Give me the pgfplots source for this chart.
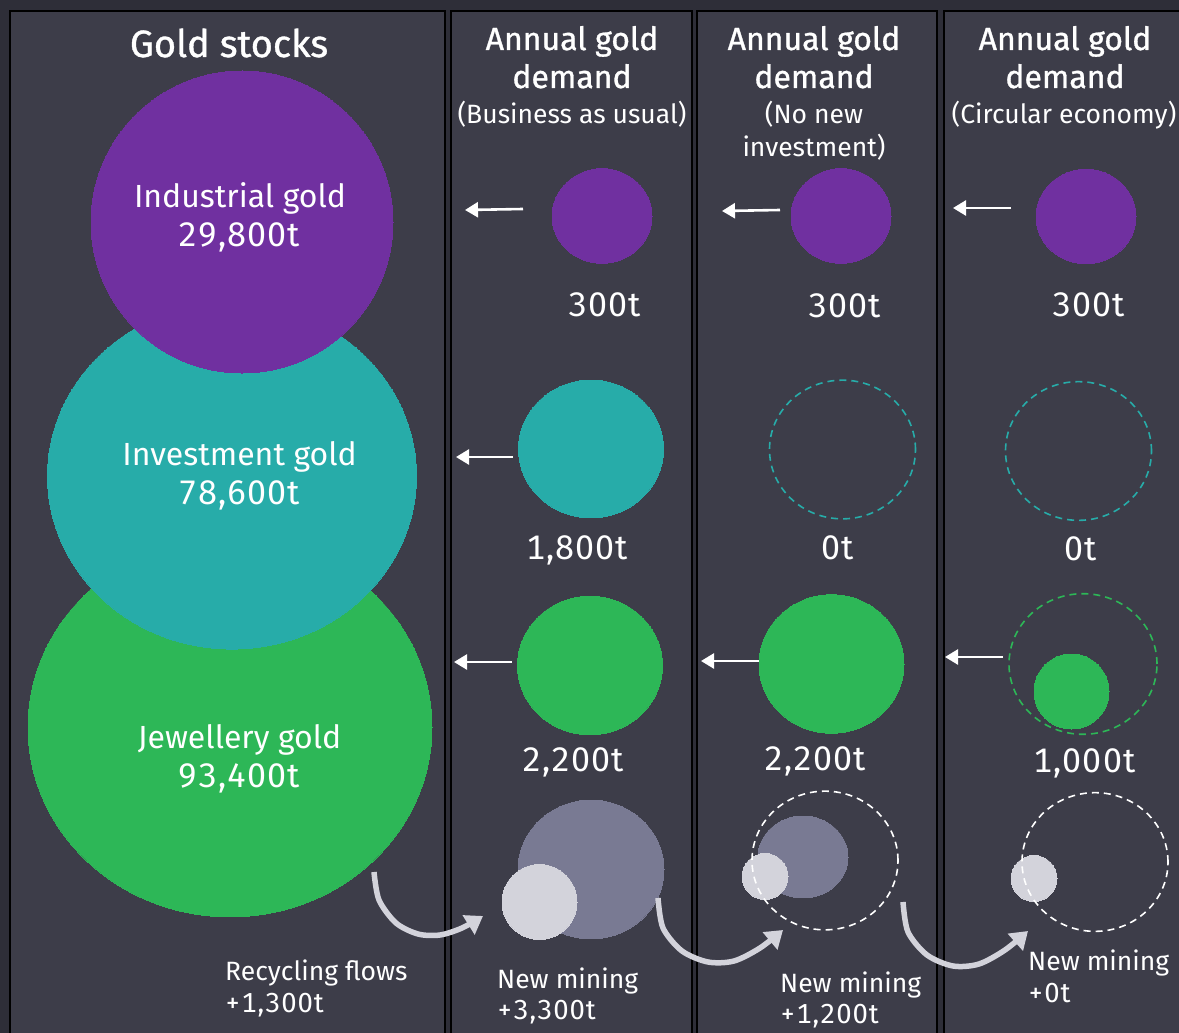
\documentclass[border=0pt]{standalone}
\usepackage{pgfplots}
\pgfplotsset{compat=1.18}
\usepackage{fontspec}
\setmainfont{Fira Sans}
\newfontfamily\titlefont{Fira Sans}[FakeBold=1]
\newfontfamily\numfont{Fira Sans}[Numbers={Monospaced,Lining}, LetterSpace=3]
\usetikzlibrary{arrows.meta}
\definecolor{outerc}{HTML}{2E2E38}
\definecolor{panelc}{HTML}{3D3D49}
\definecolor{purp}{HTML}{7030A0}
\definecolor{tealc}{HTML}{27ACA9}
\definecolor{grn}{HTML}{2DB757}
\definecolor{greyc}{HTML}{797A93}
\definecolor{lightc}{HTML}{D3D3DB}
\pgfplotsset{
  bub/.style 2 args={scatter, only marks, mark=*, color=#1, point meta=\thisrow{r},
    scatter/use mapped color={draw=#1, fill=#1},
    visualization depends on={\thisrow{r}\as\rad},
    scatter/@pre marker code/.append style={/tikz/mark size=\rad pt},
    mark options={yscale=#2, draw=#1, fill=#1, line width=0pt}},
  ring/.style 2 args={scatter, only marks, mark=o, color=#1, point meta=\thisrow{r},
    scatter/use mapped color={draw=#1, fill=none},
    visualization depends on={\thisrow{r}\as\rad},
    scatter/@pre marker code/.append style={/tikz/mark size=\rad pt},
    mark options={yscale=#2, line width=1.6pt, dash pattern=on 7pt off 5pt}},
  panel/.style={fill=panelc, draw=black, line width=2pt},
  sarrow/.style={white, line width=2.6pt, -{Triangle[length=13pt,width=15pt]}},
  carrow/.style={lightc, line width=5.5pt, smooth, -{Triangle[length=17pt,width=22pt]}},
}
\newcommand\gs{\titlefont\fontsize{38}{44}\selectfont}
\newcommand\ttl{\titlefont\fontsize{32}{37}\selectfont}
\newcommand\sub{\fontsize{26.5}{31}\selectfont}
\newcommand\lab{\fontsize{32}{38}\selectfont}
\newcommand\val{\numfont\fontsize{34}{40}\selectfont}
\newcommand\sml{\fontsize{26.5}{31}\selectfont}
\newcommand\smn{\numfont\fontsize{27.5}{31}\selectfont}
\begin{document}
\begin{tikzpicture}
\begin{axis}[scale only axis, width=1179pt, height=1033pt,
  xmin=0, xmax=1179, ymin=0, ymax=1033, y dir=reverse, hide axis, clip=true,
  clip marker paths=true]
% backgrounds
\addplot[fill=outerc, draw=none] coordinates {(0,0) (1179,0) (1179,1033) (0,1033)} -- cycle;
\addplot[panel] coordinates {(10,1045) (10,11) (445,11) (445,1045)} -- cycle;
\addplot[panel] coordinates {(451,1045) (451,11) (692,11) (692,1045)} -- cycle;
\addplot[panel] coordinates {(697,1045) (697,11) (937,11) (937,1045)} -- cycle;
\addplot[panel] coordinates {(944,1045) (944,11) (1190,11) (1190,1045)} -- cycle;
% gold stocks
\addplot[bub={grn}{0.94}] table[row sep=\\] {x y r\\ 230 727 202\\};
\addplot[bub={tealc}{0.938}] table[row sep=\\] {x y r\\ 232 476 184.5\\};
\addplot[bub={purp}{1.0}] table[row sep=\\] {x y r\\ 242 222 151\\};
% annual demand
\addplot[bub={purp}{0.945}] table[row sep=\\] {x y r\\ 602 216 50\\ 841 216 50\\ 1086 216.5 50\\};
\addplot[bub={tealc}{0.95}] table[row sep=\\] {x y r\\ 591 449 72.5\\};
\addplot[ring={tealc}{0.95}] table[row sep=\\] {x y r\\ 842.5 449.5 73\\ 1078.5 451 73\\};
\addplot[bub={grn}{0.955}] table[row sep=\\] {x y r\\ 590 665.5 72.5\\ 831.5 664 72.5\\};
\addplot[ring={grn}{0.95}] table[row sep=\\] {x y r\\ 1083 664 74\\};
\addplot[bub={grn}{1.0}] table[row sep=\\] {x y r\\ 1071.5 691.5 37.5\\};
% mining
\addplot[bub={greyc}{0.95}] table[row sep=\\] {x y r\\ 591 869.5 73\\};
\addplot[bub={greyc}{0.91}] table[row sep=\\] {x y r\\ 803 857 45\\};
\addplot[bub={lightc}{1.0}] table[row sep=\\] {x y r\\ 539.5 902 37.5\\ 765 876.5 23\\ 1034 878.5 23\\};
\addplot[ring={white}{0.95}] table[row sep=\\] {x y r\\ 825 860.5 73\\ 1095 862 73\\};
% straight arrows
\addplot[sarrow] coordinates {(523,209) (465,210)};
\addplot[sarrow] coordinates {(513,457) (456,457)};
\addplot[sarrow] coordinates {(512,662) (454,662)};
\addplot[sarrow] coordinates {(780,210) (722,211)};
\addplot[sarrow] coordinates {(759,661) (701,661)};
\addplot[sarrow] coordinates {(1011,208) (953,208)};
\addplot[sarrow] coordinates {(1003,657) (945,657)};
% curved arrows
\addplot[carrow] coordinates {(374,872) (379,900) (396,923) (418,934) (440,935) (462,928) (483,916)};
\addplot[carrow] coordinates {(658,898) (663,928) (682,951) (708,962) (734,961) (760,948) (783,930)};
\addplot[carrow] coordinates {(903,902) (908,932) (927,955) (953,966) (979,964) (1005,950) (1028,931)};
% titles
\node[anchor=base, white, font=\gs] at (axis cs:229,57) {Gold stocks};
\node[anchor=base, white, font=\ttl] at (axis cs:572,50) {Annual gold};
\node[anchor=base, white, font=\ttl] at (axis cs:572,88) {demand};
\node[anchor=base, white, font=\sub] at (axis cs:572,124) {(Business as usual)};
\node[anchor=base, white, font=\ttl] at (axis cs:814,50) {Annual gold};
\node[anchor=base, white, font=\ttl] at (axis cs:814,88) {demand};
\node[anchor=base, white, font=\sub] at (axis cs:814,124) {(No new};
\node[anchor=base, white, font=\sub] at (axis cs:814,156) {investment)};
\node[anchor=base, white, font=\ttl] at (axis cs:1065,50) {Annual gold};
\node[anchor=base, white, font=\ttl] at (axis cs:1065,88) {demand};
\node[anchor=base, white, font=\sub] at (axis cs:1064,124) {(Circular economy)};
% stock labels
\node[anchor=base, white, font=\lab] at (axis cs:240,207) {Industrial gold};
\node[anchor=base, white, font=\val] at (axis cs:239,246) {29,800t};
\node[anchor=base, white, font=\lab] at (axis cs:239.5,465) {Investment gold};
\node[anchor=base, white, font=\val] at (axis cs:239,504) {78,600t};
\node[anchor=base, white, font=\lab] at (axis cs:239.5,748) {Jewellery gold};
\node[anchor=base, white, font=\val] at (axis cs:239,787) {93,400t};
% values
\node[anchor=base, white, font=\val] at (axis cs:605,316) {300t};
\node[anchor=base, white, font=\val] at (axis cs:845,317) {300t};
\node[anchor=base, white, font=\val] at (axis cs:1089,316) {300t};
\node[anchor=base, white, font=\val] at (axis cs:577,559) {1,800t};
\node[anchor=base, white, font=\val] at (axis cs:837.5,559) {0t};
\node[anchor=base, white, font=\val] at (axis cs:1080.5,560) {0t};
\node[anchor=base, white, font=\val] at (axis cs:573,771) {2,200t};
\node[anchor=base, white, font=\val] at (axis cs:815,770) {2,200t};
\node[anchor=base, white, font=\val] at (axis cs:1084.5,772) {1,000t};
% bottom labels
\node[anchor=base west, inner sep=0pt, white, font=\sml] at (axis cs:225,980) {Recycling flows};
\node[anchor=base west, inner sep=0pt, white, font=\smn] at (axis cs:225,1012) {+1,300t};
\node[anchor=base west, inner sep=0pt, white, font=\sml] at (axis cs:497,988) {New mining};
\node[anchor=base west, inner sep=0pt, white, font=\smn] at (axis cs:497,1019) {+3,300t};
\node[anchor=base west, inner sep=0pt, white, font=\sml] at (axis cs:780,992) {New mining};
\node[anchor=base west, inner sep=0pt, white, font=\smn] at (axis cs:780,1023) {+1,200t};
\node[anchor=base west, inner sep=0pt, white, font=\sml] at (axis cs:1028,970) {New mining};
\node[anchor=base west, inner sep=0pt, white, font=\smn] at (axis cs:1028,1002) {+0t};
\end{axis}
\pgfresetboundingbox
\useasboundingbox (current axis.south west) rectangle (current axis.north east);
\end{tikzpicture}
\end{document}
